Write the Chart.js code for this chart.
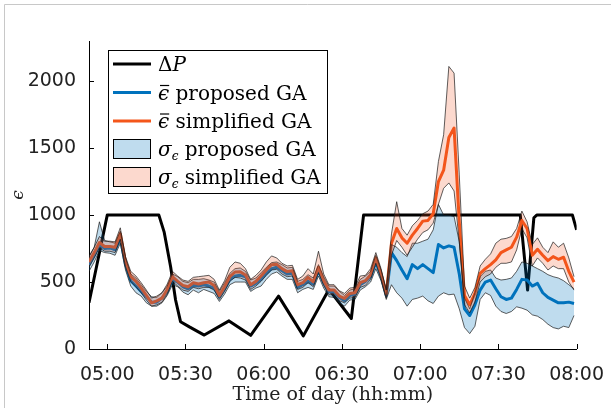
<!DOCTYPE html>
<html>
<head>
<meta charset="utf-8">
<script src="https://cdn.jsdelivr.net/npm/chart.js@4.4.1/dist/chart.umd.min.js"></script>
<style>
  body { margin: 0; background: #fff; }
  canvas { display: block; }
</style>
</head>
<body>
<canvas id="myChart" width="611" height="408"></canvas>
<script>
// time of day in minutes after midnight
const times = [293, 295, 297, 299, 301, 303, 305, 307, 309, 311, 313, 315, 317, 319, 321, 323, 325, 327, 329, 331,
  333, 335, 337, 339, 341, 343, 345, 347, 349, 351, 353, 355, 357, 359, 361, 363, 365, 367, 369, 371,
  373, 375, 377, 379, 381, 383, 385, 387, 389, 391, 393, 395, 397, 399, 401, 403, 405, 407,
  409, 411, 413, 415, 417, 419, 421, 423, 425, 427, 429, 431, 433, 435, 437, 439, 441, 443, 445, 447,
  449, 451, 453, 455, 457, 459, 461, 463, 465, 467, 469, 471, 473, 475, 477, 479];

// mean error, proposed GA
const propMean = [630, 700, 780, 750, 755, 740, 830, 630, 510, 470, 430, 390, 350, 350, 380, 430, 520, 500, 465, 450,
  475, 470, 480, 470, 455, 390, 450, 520, 545, 550, 540, 470, 490, 520, 565, 600, 610, 585, 560, 565,
  460, 480, 505, 485, 585, 495, 425, 430, 385, 360, 400, 410, 480, 505, 540, 650, 545, 400,
  720, 660, 590, 525, 630, 600, 630, 600, 570, 780, 755, 770, 760, 560, 300, 250, 330, 440, 500, 515,
  450, 390, 370, 380, 445, 520, 515, 470, 490, 420, 385, 365, 345, 345, 350, 340];
// mean error, simplified GA
const simpMean = [650, 720, 795, 765, 765, 760, 860, 650, 540, 505, 455, 400, 345, 360, 380, 445, 540, 505, 475, 465,
  495, 485, 495, 500, 475, 400, 465, 540, 575, 577, 552, 480, 505, 545, 590, 630, 632, 600, 578, 585,
  480, 495, 535, 502, 610, 510, 440, 440, 395, 378, 415, 420, 495, 510, 555, 680, 560, 410,
  790, 900, 830, 790, 850, 900, 955, 960, 1010, 1250, 1335, 1580, 1650, 950, 400, 330, 415, 565, 600, 630,
  665, 720, 740, 760, 835, 960, 900, 700, 745, 700, 660, 690, 670, 685, 580, 500];

// sigma band edges
const propLow = [580, 650, 735, 720, 715, 700, 790, 590, 470, 420, 395, 345, 320, 320, 345, 400, 480, 465, 425, 405,
  440, 420, 445, 430, 415, 355, 410, 480, 500, 500, 500, 430, 455, 470, 520, 560, 575, 545, 520, 520,
  420, 445, 460, 445, 545, 455, 390, 385, 345, 320, 365, 370, 440, 465, 500, 600, 510, 370,
  480, 420, 380, 320, 370, 380, 395, 360, 340, 395, 420, 405, 410, 300, 160, 115, 170, 370, 420, 400,
  320, 280, 265, 280, 315, 305, 290, 255, 245, 220, 185, 160, 150, 170, 160, 250];
const propHigh = [690, 760, 950, 810, 800, 790, 880, 680, 560, 530, 480, 430, 390, 385, 420, 470, 560, 540, 505, 495,
  520, 520, 525, 515, 500, 430, 495, 565, 600, 605, 580, 515, 530, 570, 610, 645, 650, 630, 605, 610,
  505, 520, 555, 530, 630, 540, 470, 470, 430, 400, 440, 450, 520, 545, 580, 700, 590, 440,
  780, 760, 720, 690, 790, 790, 805, 820, 890, 1080, 1000, 1000, 990, 800, 380, 300, 420, 540, 580, 590,
  530, 515, 520, 530, 580, 650, 640, 620, 600, 580, 555, 540, 530, 510, 480, 450];
const simpLow = [610, 680, 755, 730, 730, 720, 820, 615, 505, 465, 420, 365, 320, 330, 350, 410, 505, 470, 440, 430,
  460, 450, 460, 460, 440, 370, 430, 505, 535, 530, 515, 445, 470, 505, 550, 590, 595, 560, 540, 545,
  445, 460, 495, 465, 570, 475, 405, 405, 360, 345, 380, 385, 460, 475, 520, 640, 525, 380,
  700, 810, 760, 700, 760, 820, 870, 890, 940, 1080, 1200, 1240, 1180, 800, 330, 270, 350, 500, 540, 560,
  610, 640, 640, 650, 740, 900, 830, 620, 680, 640, 590, 620, 600, 600, 500, 440];
const simpHigh = [690, 760, 840, 805, 805, 800, 905, 690, 580, 545, 495, 440, 380, 395, 420, 485, 580, 545, 515, 505,
  535, 540, 545, 550, 520, 440, 510, 610, 650, 640, 600, 520, 550, 590, 650, 695, 680, 640, 620, 625,
  520, 545, 600, 560, 730, 560, 480, 480, 435, 415, 455, 460, 545, 550, 600, 720, 600, 440,
  860, 1100, 900, 850, 920, 960, 1010, 1030, 1080, 1400, 1600, 2110, 2060, 1300, 470, 380, 460, 620, 670, 710,
  790, 820, 826, 840, 900, 1030, 950, 780, 830, 760, 720, 800, 760, 790, 680, 540];

// Delta P
const dpTime = [293, 300, 319.8, 321.8, 324.3, 326.2, 328.1, 331.5, 337.2, 346.7, 355, 365.7, 375.2, 385, 393.6, 398.3,
  458.4, 461.2, 463.6, 464.7, 478.4, 480];
const dpValue = [345, 1000, 1000, 875, 614, 366, 204, 165, 104, 210, 102, 395, 98, 445, 228, 1000,
  1000, 440, 980, 1000, 1000, 890];

const xTicks = [300, 330, 360, 390, 420, 450, 480];
const yTicks = [0, 500, 1000, 1500, 2000];

const blueLine = '#0072BD';
const orangeLine = '#F4561A';
const blueFill = 'rgba(0,114,189,0.25)';
const orangeFill = 'rgba(240,80,30,0.22)';
const edge = '#1a1a1a';

function toPoints(xs, ys) {
  return xs.map((x, i) => ({ x: x, y: ys[i] }));
}

function hhmm(v) {
  const h = Math.floor(v / 60), m = Math.round(v % 60);
  return String(h).padStart(2, '0') + ':' + String(m).padStart(2, '0');
}

// write a row of text pieces with different fonts
function drawRich(ctx, x, y, parts) {
  parts.forEach(p => {
    ctx.font = p.font;
    ctx.fillText(p.t, x, y + (p.dy || 0));
    const w = ctx.measureText(p.t).width;
    if (p.bar) {
      ctx.beginPath();
      ctx.lineWidth = 1.2;
      ctx.moveTo(x + 2, y - 14);
      ctx.lineTo(x + w, y - 14);
      ctx.stroke();
    }
    x += w;
  });
}

const serif = 'DejaVu Serif';
const big = '20px "' + serif + '"';
const bigIt = 'italic 20px "' + serif + '"';
const smallIt = 'italic 12px "' + serif + '"';

const decor = {
  id: 'decor',
  beforeDraw(chart) {
    const ctx = chart.ctx;
    ctx.save();
    ctx.fillStyle = '#fff';
    ctx.fillRect(0, 0, chart.width, chart.height);
    ctx.strokeStyle = '#c8c8c8';
    ctx.lineWidth = 1;
    ctx.beginPath();
    ctx.moveTo(4.5, 408);
    ctx.lineTo(4.5, 4.5);
    ctx.lineTo(611, 4.5);
    ctx.stroke();
    ctx.restore();
  },
  afterDraw(chart) {
    const ctx = chart.ctx;
    const xs = chart.scales.x, ys = chart.scales.y, area = chart.chartArea;
    ctx.save();
    // inward tick marks
    ctx.strokeStyle = '#000';
    ctx.lineWidth = 1;
    ctx.beginPath();
    xTicks.forEach(v => {
      const px = Math.round(xs.getPixelForValue(v)) + 0.5;
      ctx.moveTo(px, area.bottom);
      ctx.lineTo(px, area.bottom - 5);
    });
    yTicks.forEach(v => {
      const py = Math.round(ys.getPixelForValue(v)) + 0.5;
      ctx.moveTo(area.left, py);
      ctx.lineTo(area.left + 5, py);
    });
    ctx.stroke();

    // legend
    ctx.fillStyle = '#fff';
    ctx.fillRect(108.5, 50.5, 219, 143);
    ctx.strokeStyle = '#000';
    ctx.lineWidth = 1;
    ctx.strokeRect(108.5, 50.5, 219, 143);

    const rows = [64, 92.5, 121, 149, 177];
    const lineCols = ['#000', blueLine, orangeLine];
    for (let i = 0; i < 3; i++) {
      ctx.beginPath();
      ctx.strokeStyle = lineCols[i];
      ctx.lineWidth = 3;
      ctx.moveTo(113, rows[i]);
      ctx.lineTo(151, rows[i]);
      ctx.stroke();
    }
    [blueFill, orangeFill].forEach((c, i) => {
      const y = rows[3 + i];
      ctx.fillStyle = c;
      ctx.fillRect(113.5, y - 9.5, 37, 19);
      ctx.strokeStyle = '#000';
      ctx.lineWidth = 1;
      ctx.strokeRect(113.5, y - 9.5, 37, 19);
    });

    ctx.fillStyle = '#000';
    ctx.strokeStyle = '#000';
    ctx.textBaseline = 'alphabetic';
    const tx = 158;
    drawRich(ctx, tx, rows[0] + 7, [{ t: '\u0394', font: big }, { t: 'P', font: bigIt }]);
    drawRich(ctx, tx, rows[1] + 7, [{ t: '\u03F5', font: bigIt, bar: true }, { t: ' proposed GA', font: big }]);
    drawRich(ctx, tx, rows[2] + 7, [{ t: '\u03F5', font: bigIt, bar: true }, { t: ' simplified GA', font: big }]);
    drawRich(ctx, tx, rows[3] + 7, [{ t: '\u03C3', font: bigIt }, { t: '\u03F5', font: smallIt, dy: 4 }, { t: ' proposed GA', font: big }]);
    drawRich(ctx, tx, rows[4] + 7, [{ t: '\u03C3', font: bigIt }, { t: '\u03F5', font: smallIt, dy: 4 }, { t: ' simplified GA', font: big }]);
    ctx.restore();
  }
};

const ctx = document.getElementById('myChart').getContext('2d');

new Chart(ctx, {
  type: 'line',
  data: {
    datasets: [
      { label: 'dP', data: toPoints(dpTime, dpValue), borderColor: '#000', borderWidth: 3, order: 5 },
      { label: 'mean proposed', data: toPoints(times, propMean), borderColor: blueLine, borderWidth: 3, order: 4 },
      { label: 'mean simplified', data: toPoints(times, simpMean), borderColor: orangeLine, borderWidth: 3, order: 3 },
      { label: 'proposed low', data: toPoints(times, propLow), borderColor: edge, borderWidth: 0.7, fill: false, order: 2 },
      { label: 'proposed high', data: toPoints(times, propHigh), borderColor: edge, borderWidth: 0.7, fill: '-1', backgroundColor: blueFill, order: 2 },
      { label: 'simplified low', data: toPoints(times, simpLow), borderColor: edge, borderWidth: 0.7, fill: false, order: 1 },
      { label: 'simplified high', data: toPoints(times, simpHigh), borderColor: edge, borderWidth: 0.7, fill: '-1', backgroundColor: orangeFill, order: 1 }
    ]
  },
  options: {
    responsive: false,
    animation: false,
    elements: {
      point: { radius: 0 },
      line: { tension: 0, borderJoinStyle: 'round' }
    },
    layout: { padding: { left: 0, right: 31, top: 41, bottom: 0 } },
    plugins: {
      legend: { display: false },
      tooltip: { enabled: false }
    },
    scales: {
      x: {
        type: 'linear',
        min: 293,
        max: 480,
        grid: { display: false },
        border: { display: true, color: '#000', width: 1 },
        afterBuildTicks: s => { s.ticks = xTicks.map(v => ({ value: v })); },
        afterFit: s => { s.height = 59; },
        ticks: {
          font: { family: 'DejaVu Sans', size: 19 },
          color: '#222',
          padding: 7,
          maxRotation: 0,
          autoSkip: false,
          callback: v => hhmm(v)
        },
        title: {
          display: true,
          text: 'Time of day (hh:mm)',
          font: { family: serif, size: 19 },
          color: '#222',
          padding: { top: 0, bottom: 2 }
        }
      },
      y: {
        min: 0,
        max: 2300,
        grid: { display: false },
        border: { display: true, color: '#000', width: 1 },
        afterBuildTicks: s => { s.ticks = yTicks.map(v => ({ value: v })); },
        afterFit: s => { s.width = 89; },
        ticks: {
          font: { family: 'DejaVu Sans', size: 19 },
          color: '#222',
          padding: 5,
          callback: v => String(v)
        },
        title: {
          display: true,
          text: '\u03F5',
          font: { family: serif, size: 17, style: 'italic' },
          color: '#222',
          padding: { top: 8, bottom: 0 }
        }
      }
    }
  },
  plugins: [decor]
});
</script>
</body>
</html>
